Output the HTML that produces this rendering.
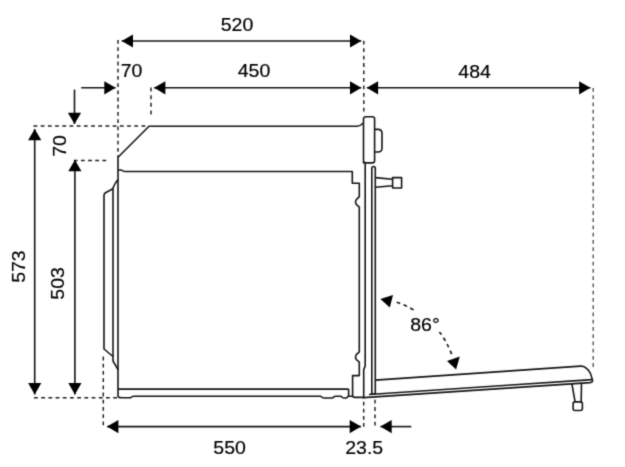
<!DOCTYPE html>
<html><head><meta charset="utf-8"><style>
html,body{margin:0;padding:0;background:#fff;width:625px;height:467px;overflow:hidden}
svg{display:block}
text{font-family:"Liberation Sans",sans-serif;fill:#000;stroke:#000;stroke-width:0.2px}
</style></head><body>
<svg width="625" height="467" viewBox="0 0 625 467">
<defs><filter id="soft" x="0" y="0" width="625" height="467" filterUnits="userSpaceOnUse" color-interpolation-filters="sRGB"><feConvolveMatrix order="3" kernelMatrix="1 5 1 5 25 5 1 5 1" divisor="49" edgeMode="duplicate"/></filter></defs>
<g filter="url(#soft)">
<rect width="625" height="467" fill="#fff"/>
<line x1="121.7" y1="41" x2="361.3" y2="41" stroke="#161616" stroke-width="1.6"/>
<polygon points="121.70,41.00 133.00,34.40 133.00,47.60" fill="#000"/>
<polygon points="361.30,41.00 350.00,47.60 350.00,34.40" fill="#000"/>
<text transform="translate(237 31) scale(1 0.94)" x="0" y="0" font-size="19.5" text-anchor="middle">520</text>
<line x1="118" y1="40" x2="118" y2="157" stroke="#1e1e1e" stroke-width="1.45" stroke-dasharray="3.8 3.4"/>
<line x1="363.8" y1="40.8" x2="363.8" y2="112" stroke="#1e1e1e" stroke-width="1.45" stroke-dasharray="3.8 3.64"/>
<line x1="81.2" y1="87.8" x2="115.6" y2="87.8" stroke="#161616" stroke-width="1.6"/>
<polygon points="115.60,87.80 104.30,94.40 104.30,81.20" fill="#000"/>
<text transform="translate(131.5 77.1) scale(1 0.94)" x="0" y="0" font-size="19.5" text-anchor="middle">70</text>
<line x1="154.1" y1="87.8" x2="361.3" y2="87.8" stroke="#161616" stroke-width="1.6"/>
<polygon points="154.10,87.80 165.40,81.20 165.40,94.40" fill="#000"/>
<polygon points="361.30,87.80 350.00,94.40 350.00,81.20" fill="#000"/>
<text transform="translate(254 77.1) scale(1 0.94)" x="0" y="0" font-size="19.5" text-anchor="middle">450</text>
<line x1="151" y1="87.6" x2="151" y2="115" stroke="#1e1e1e" stroke-width="1.45" stroke-dasharray="4 3.6"/>
<line x1="366.8" y1="87.8" x2="590.4" y2="87.8" stroke="#161616" stroke-width="1.6"/>
<polygon points="366.80,87.80 378.10,81.20 378.10,94.40" fill="#000"/>
<polygon points="590.40,87.80 579.10,94.40 579.10,81.20" fill="#000"/>
<text transform="translate(474.6 77.5) scale(1 0.94)" x="0" y="0" font-size="19.5" text-anchor="middle">484</text>
<line x1="593.2" y1="88" x2="593.2" y2="367" stroke="#5a5a5a" stroke-width="1.45" stroke-dasharray="3.8 3.44"/>
<line x1="74.5" y1="89.6" x2="74.5" y2="124" stroke="#161616" stroke-width="1.6"/>
<polygon points="74.50,124.00 67.90,112.70 81.10,112.70" fill="#000"/>
<line x1="33.5" y1="126" x2="149" y2="126" stroke="#1e1e1e" stroke-width="1.45" stroke-dasharray="3.8 3.4"/>
<line x1="34.7" y1="129" x2="34.7" y2="394.4" stroke="#161616" stroke-width="1.6"/>
<polygon points="34.70,129.00 41.30,140.30 28.10,140.30" fill="#000"/>
<polygon points="34.70,394.40 28.10,383.10 41.30,383.10" fill="#000"/>
<text transform="translate(25.3 266.6) rotate(-90) scale(1 0.94)" x="0" y="0" font-size="19.5" text-anchor="middle">573</text>
<text transform="translate(65.5 145.9) rotate(-90) scale(1 0.94)" x="0" y="0" font-size="19.5" text-anchor="middle">70</text>
<line x1="73.8" y1="160.4" x2="106.6" y2="160.4" stroke="#1e1e1e" stroke-width="1.45" stroke-dasharray="3.8 3.35"/>
<line x1="74.9" y1="160" x2="74.9" y2="394.4" stroke="#161616" stroke-width="1.6"/>
<polygon points="74.90,160.00 81.50,171.30 68.30,171.30" fill="#000"/>
<polygon points="74.90,394.40 68.30,383.10 81.50,383.10" fill="#000"/>
<text transform="translate(64.3 283.4) rotate(-90) scale(1 0.94)" x="0" y="0" font-size="19.5" text-anchor="middle">503</text>
<line x1="34" y1="397.7" x2="118" y2="397.7" stroke="#1e1e1e" stroke-width="1.45" stroke-dasharray="3.8 3.4"/>
<line x1="103.3" y1="356.6" x2="103.3" y2="427" stroke="#1e1e1e" stroke-width="1.45" stroke-dasharray="3.8 3.4"/>
<line x1="107.1" y1="426.6" x2="361" y2="426.6" stroke="#161616" stroke-width="1.6"/>
<polygon points="107.10,426.60 118.40,420.00 118.40,433.20" fill="#000"/>
<polygon points="361.00,426.60 349.70,433.20 349.70,420.00" fill="#000"/>
<text transform="translate(229.6 454.4) scale(1 0.94)" x="0" y="0" font-size="19.5" text-anchor="middle">550</text>
<line x1="363.7" y1="401.7" x2="363.7" y2="427" stroke="#1e1e1e" stroke-width="1.45" stroke-dasharray="3.8 3.3"/>
<line x1="375" y1="399.8" x2="375" y2="426.5" stroke="#1e1e1e" stroke-width="1.45" stroke-dasharray="3.8 3.5"/>
<line x1="380.4" y1="426.6" x2="411.3" y2="426.6" stroke="#161616" stroke-width="1.6"/>
<polygon points="380.40,426.60 391.70,420.00 391.70,433.20" fill="#000"/>
<text transform="translate(364.2 454) scale(1 0.94)" x="0" y="0" font-size="19.5" text-anchor="middle">23.5</text>
<polygon points="380.4,299 393,295 389.8,307.4" fill="#000"/>
<path d="M396.7,302.3 Q405,304.8 414.6,310.4" stroke="#161616" stroke-width="1.6" fill="none" stroke-linejoin="round" stroke-dasharray="3.8 3.6"/>
<path d="M439.4,331.9 Q446.5,341 452.2,355.5" stroke="#161616" stroke-width="1.6" fill="none" stroke-linejoin="round" stroke-dasharray="3.6 3.7"/>
<polygon points="456.1,369.5 447,360.9 459.8,356.6" fill="#000"/>
<text transform="translate(425 330.7) scale(1 0.94)" x="0" y="0" font-size="19.5" text-anchor="middle">86°</text>
<path d="M149,126.2 L357,126.2 Q360,126.2 363.5,123" stroke="#161616" stroke-width="1.6" fill="none" stroke-linejoin="round"/>
<line x1="118" y1="157.2" x2="149" y2="126.2" stroke="#161616" stroke-width="1.6"/>
<line x1="118" y1="157" x2="118" y2="397" stroke="#161616" stroke-width="1.6"/>
<path d="M118,170 L121.5,170 Q123,171.5 125,171.5 L352.3,171.5 L352.3,183.2 L359.3,183.2 L359.3,196.7 L356.3,199.6 Q354.8,202 356.3,204.4 L359.3,207.1 L359.3,351.9 L356.3,354.6 Q354.8,357 356.3,359.5 L359.3,362.2 L359.3,375.6 L352.6,375.6 L352.6,395.6 Q352.8,397.4 355,397.4 L363.7,397.4" stroke="#161616" stroke-width="1.6" fill="none" stroke-linejoin="round"/>
<path d="M118,179.6 Q115,183 113.8,186.3 Q113.2,188.6 111.5,189.5 L105.5,192.8 Q104,193.6 104,195.5 L104,349 L113,356.5 L113,361 L118,369.7" stroke="#161616" stroke-width="1.6" fill="none" stroke-linejoin="round"/>
<line x1="113" y1="188.5" x2="113" y2="356.5" stroke="#161616" stroke-width="1.6"/>
<line x1="118" y1="389.1" x2="348.6" y2="389.1" stroke="#161616" stroke-width="1.6"/>
<path d="M118,397 Q120,397.8 122,397.8 L130.4,397.8 Q132,396.3 134,396.3 L320.8,396.2 Q322.5,398 324,398 L332.5,398 Q334,396.2 335.5,396.2 L341,396.2 Q342.5,398 344,398 L346.5,398 Q348,396.2 348.6,396.2 L352.6,396.2" stroke="#161616" stroke-width="1.6" fill="none" stroke-linejoin="round"/>
<path d="M348.6,389 L348.6,396.2" stroke="#161616" stroke-width="1.6" fill="none" stroke-linejoin="round"/>
<path d="M365.2,163 L365.2,365.9 L363.7,369.8 L363.7,398.5" stroke="#161616" stroke-width="1.6" fill="none" stroke-linejoin="round"/>
<path d="M363.5,162.9 L363.5,119 Q363.5,116.8 366,116.8 L372.4,116.8 Q374.6,116.8 374.6,119 L374.6,160.7 Q374.6,162.9 372.4,162.9 L366,162.9 Q363.5,162.9 363.5,160.7 Z" stroke="#161616" stroke-width="1.6" fill="none" stroke-linejoin="round"/>
<path d="M374.6,129.4 L378,129.4 Q382,129.4 382,133.4 L382,148 Q382,152 378,152 L374.6,152" stroke="#161616" stroke-width="1.6" fill="none" stroke-linejoin="round"/>
<path d="M371.8,394 L371.8,168.5 Q371.8,166.5 373.7,166.5 Q375.3,166.5 375.3,168.5 L375.3,394 Z" stroke="#161616" stroke-width="1.6" fill="none" stroke-linejoin="round"/>
<path d="M375.3,177.6 L392.6,179.3 L392.6,185.7 L375.3,187.3" stroke="#161616" stroke-width="1.6" fill="none" stroke-linejoin="round"/>
<path d="M392.6,179 L392.6,177.6 L401.6,177.6 L401.6,188 L392.6,188 L392.6,186" stroke="#161616" stroke-width="1.6" fill="none" stroke-linejoin="round"/>
<path d="M375.4,380.1 L580.5,366.1 Q583.5,365.9 585.5,367.6 L588.6,370.4 Q590.6,372.8 591.4,376.4 L592.6,380.2" stroke="#161616" stroke-width="1.6" fill="none" stroke-linejoin="round"/>
<path d="M369,394.5 L592.2,379.6" stroke="#161616" stroke-width="1.6" fill="none" stroke-linejoin="round"/>
<path d="M363.6,397.6 L590,382.6 Q592.8,382.2 592.6,380.2" stroke="#161616" stroke-width="1.6" fill="none" stroke-linejoin="round"/>
<path d="M571.9,383.9 L575.1,401.9 M581.5,383 L581.2,401.9" stroke="#161616" stroke-width="1.6" fill="none" stroke-linejoin="round"/>
<path d="M575,401.9 L580.4,401.9 Q582.4,401.9 582.4,403.9 L582.4,408.5 Q582.4,410.5 580.4,410.5 L575.1,410.5 Q573.1,410.5 573.1,408.5 L573.1,403.9 Q573.1,401.9 575,401.9 Z" stroke="#161616" stroke-width="1.6" fill="none" stroke-linejoin="round"/>
</g>
</svg></body></html>
